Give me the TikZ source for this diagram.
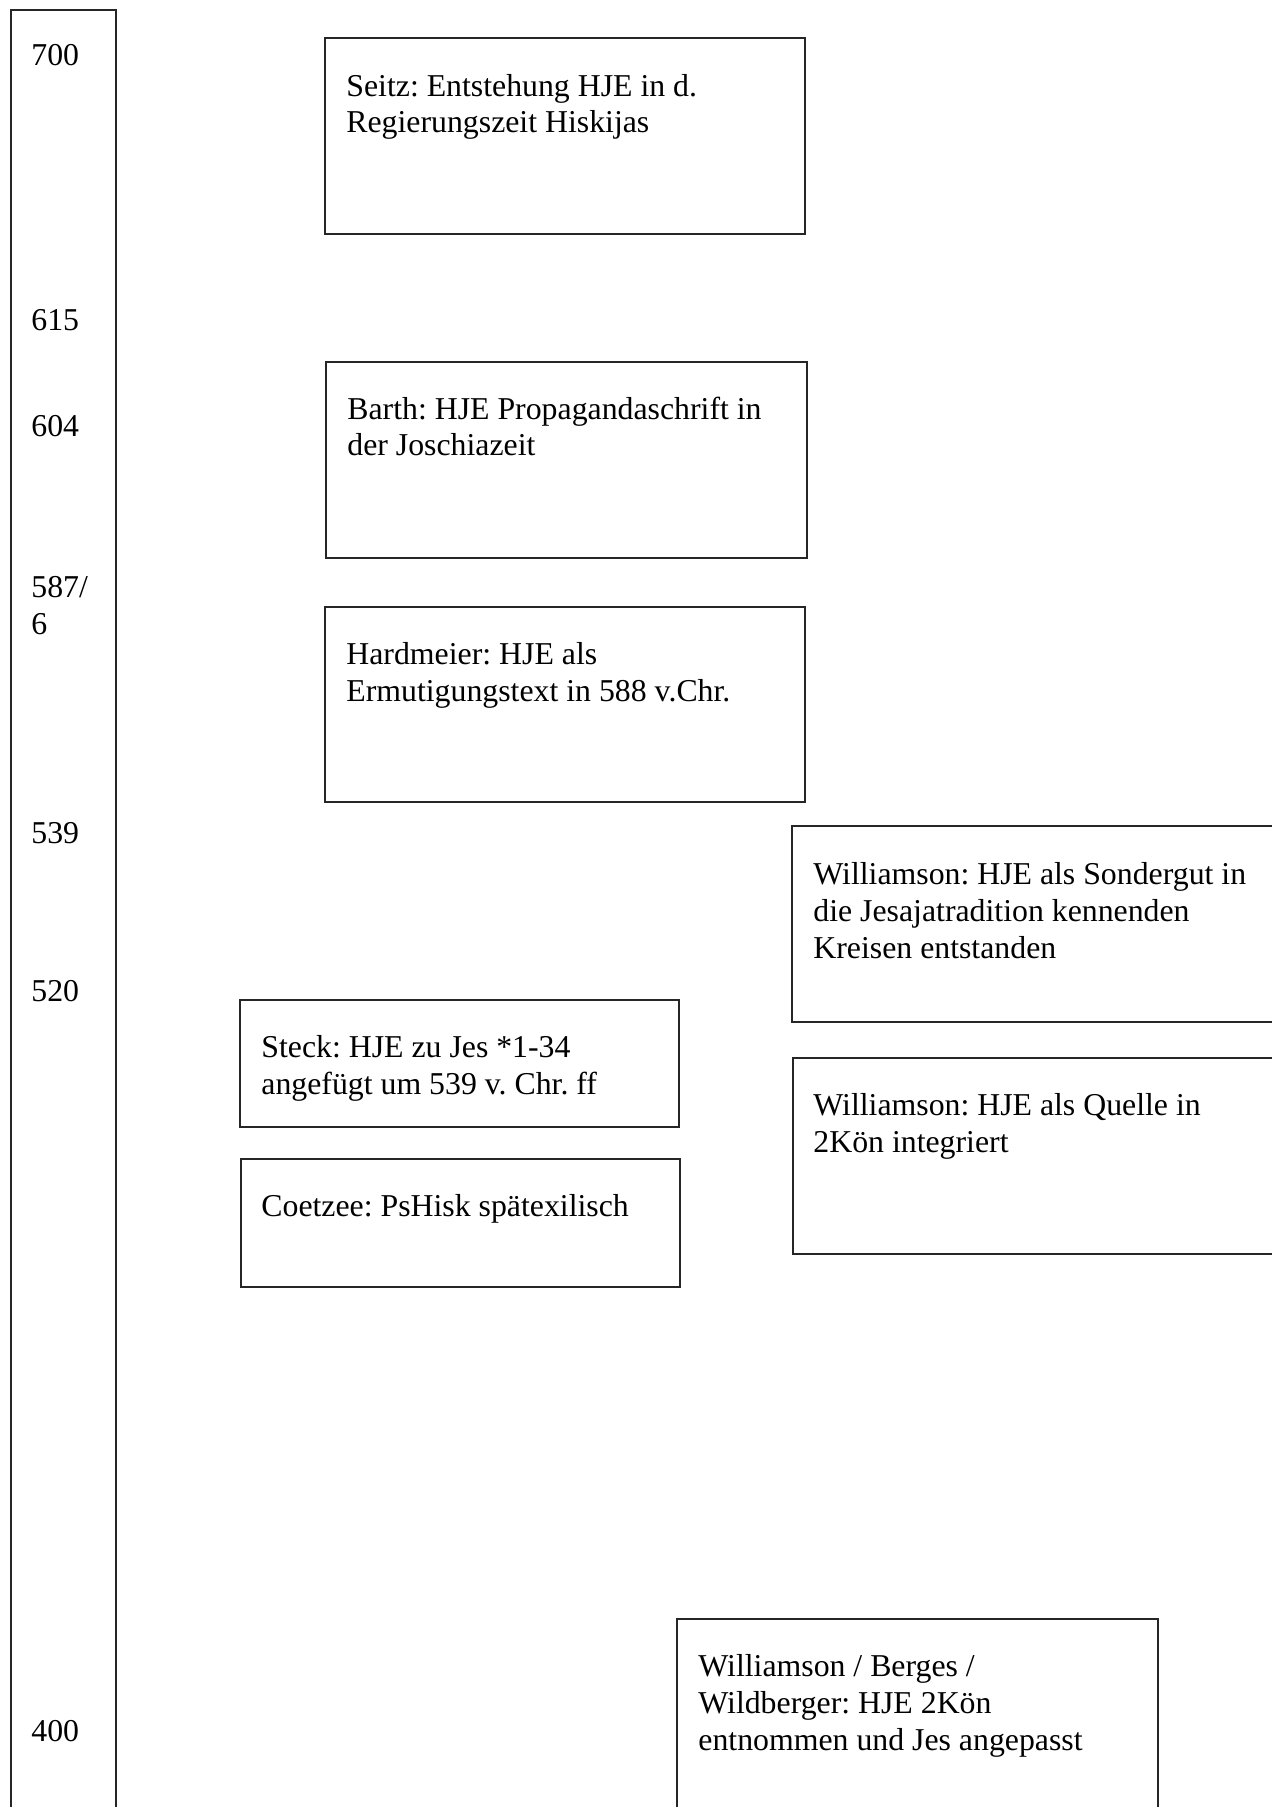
\documentclass[tikz,border=0pt]{standalone}
\usepackage{fontspec}
\setmainfont{Liberation Serif}
\frenchspacing
\begin{document}
\begin{tikzpicture}[x=0.5pt,y=-0.5pt,
    box/.style={draw=black!85,line width=0.6pt},
    txt/.style={anchor=base west,inner sep=0pt,align=left,
        font=\fontsize{15.9}{18.45}\selectfont}]
    \useasboundingbox (0,0) rectangle (1272,1807);
    \clip (0,0) rectangle (1272,1807);

    % time axis
    \draw[box] (11,1830) -- (11,10) -- (116,10) -- (116,1830);
    \node[txt] (y700) at (31,66) {700};
    \node[txt] (y615) at (31,331) {615};
    \node[txt] (y604) at (31,437) {604};
    \node[txt] (y587) at (31,634) {587/\\6};
    \node[txt] (y539) at (31,843) {539};
    \node[txt] (y520) at (31,1001) {520};
    \node[txt] (y400) at (31,1741) {400};

    % Seitz (node placed at baseline of last line)
    \draw[box] (325,38) rectangle (805,234);
    \node[txt] (seitz) at (346,133) {Seitz: Entstehung HJE in d.\\Regierungszeit Hiskijas};

    % Barth
    \draw[box] (326,362) rectangle (807,558);
    \node[txt] (barth) at (347,456) {Barth: HJE Propagandaschrift in\\der Joschiazeit};

    % Hardmeier
    \draw[box] (325,607) rectangle (805,802);
    \node[txt] (hardmeier) at (346,701) {Hardmeier: HJE als\\Ermutigungstext in 588 v.Chr.};

    % Williamson (Sondergut)
    \draw[box] (792,826) rectangle (1290,1022);
    \node[txt] (wsonder) at (813,958) {Williamson: HJE als Sondergut in\\die Jesajatradition kennenden\\Kreisen entstanden};

    % Williamson (Quelle)
    \draw[box] (793,1058) rectangle (1290,1254);
    \node[txt] (wquelle) at (813,1152) {Williamson: HJE als Quelle in\\2Kön integriert};

    % Steck
    \draw[box] (240,1000) rectangle (679,1127);
    \node[txt] (steck) at (261,1094) {Steck: HJE zu Jes *1-34\\angefügt um 539 v. Chr. ff};

    % Coetzee
    \draw[box] (241,1159) rectangle (680,1287);
    \node[txt] (coetzee) at (261,1216) {Coetzee: PsHisk spätexilisch};

    % Williamson / Berges / Wildberger
    \draw[box] (677,1619) rectangle (1158,1830);
    \node[txt] (wbw) at (698,1750) {Williamson / Berges /\\Wildberger: HJE 2Kön\\entnommen und Jes angepasst};
\end{tikzpicture}
\end{document}
